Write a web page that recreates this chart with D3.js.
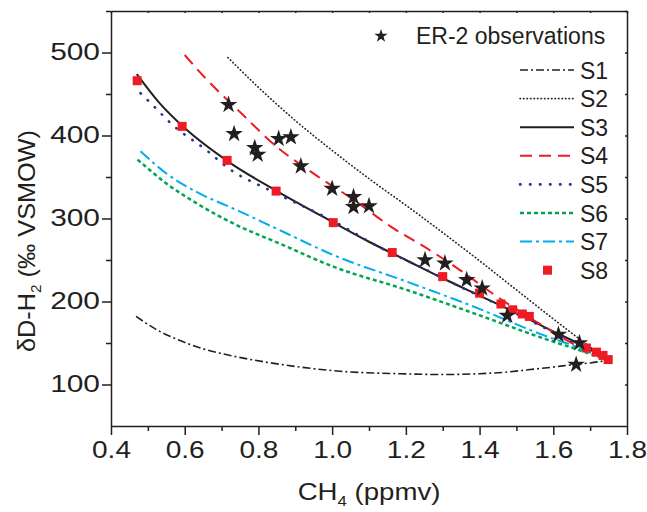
<!DOCTYPE html>
<html>
    <head>
        <style>
         body {
             margin: 0;
             background-color: #ffffff;
         }
         svg text {
             font-family: "Liberation Sans", Arial, sans-serif;
             fill: #231f20;
         }
         .axis path, .axis line {
             stroke: #231f20;
             stroke-width: 1.5;
         }
        </style>
        <script src="https://d3js.org/d3.v7.min.js"></script>
    </head>
    <body>
        <svg id="chart" width="647" height="512"></svg>
        <script>
         // ER-2 observations
         var obsX = [0.719, 0.734, 0.790, 0.798, 0.855, 0.888, 0.915, 1.000, 1.058, 1.058, 1.100,
                     1.252, 1.306, 1.365, 1.407, 1.475, 1.614, 1.671, 1.662];
         var obsY = [437, 402, 385, 377, 396, 398, 363, 336, 326, 314, 315,
                     250, 246, 226, 216, 183, 160, 150, 124];

         // model curves S1..S7
         var s1X = [0.468, 0.52, 0.587, 0.65, 0.723, 0.82, 0.913, 1.021, 1.184, 1.293, 1.40, 1.474, 1.537, 1.60, 1.654, 1.70, 1.745];
         var s1Y = [182, 167, 153, 143, 135, 127, 121, 116, 113, 112, 113, 115, 118, 121, 124, 126, 129];

         var s2X = [0.717, 0.80, 0.90, 1.00, 1.10, 1.20, 1.30, 1.40, 1.50, 1.60, 1.70, 1.745];
         var s2Y = [494, 458, 418, 382, 348, 316, 283, 249, 214, 179, 145, 130];

         var s3X = [0.47, 0.53, 0.60, 0.72, 0.85, 1.00, 1.10, 1.20, 1.30, 1.40, 1.50, 1.60, 1.70, 1.745];
         var s3Y = [474, 440, 409, 368, 333, 296, 272, 250, 228, 207, 186, 164, 142, 130];

         var s4X = [0.60, 0.65, 0.76, 0.84, 0.95, 1.06, 1.16, 1.25, 1.34, 1.46, 1.56, 1.65, 1.745];
         var s4Y = [497, 472, 424, 390, 354, 322, 290, 266, 240, 202, 174, 150, 129];

         var s5X = [0.48, 0.51, 0.569, 0.66, 0.714, 0.84, 1.003, 1.13, 1.247, 1.365, 1.428, 1.573, 1.654, 1.745];
         var s5Y = [451, 438, 412, 382, 362, 332, 297, 265, 240, 214, 201, 169, 151, 130];

         var s6X = [0.472, 0.551, 0.641, 0.732, 0.867, 1.003, 1.202, 1.383, 1.564, 1.70, 1.745];
         var s6Y = [371, 342, 316, 294, 268, 242, 214, 186, 157, 137, 130];

         var s7X = [0.48, 0.551, 0.641, 0.732, 0.867, 1.003, 1.202, 1.383, 1.564, 1.70, 1.745];
         var s7Y = [381, 354, 330, 312, 284, 256, 224, 194, 161, 139, 130];

         // S8 points
         var s8X = [0.471, 0.593, 0.715, 0.848, 1.003, 1.163, 1.30, 1.40, 1.458, 1.49, 1.516, 1.535, 1.69, 1.717, 1.735, 1.749];
         var s8Y = [466, 411, 370, 333, 295, 259, 230, 210, 197, 190, 185, 182, 144, 139, 135, 130];

         var xTicks = [0.4, 0.6, 0.8, 1.0, 1.2, 1.4, 1.6, 1.8];
         var yTicks = [100, 200, 300, 400, 500];

         var series = [
             {name: "S1", xs: s1X, ys: s1Y, color: "#231f20", width: 1.6, dash: "8,3,2,3", cap: "butt"},
             {name: "S2", xs: s2X, ys: s2Y, color: "#231f20", width: 1.6, dash: "0.5,3", cap: "round"},
             {name: "S3", xs: s3X, ys: s3Y, color: "#231f20", width: 2, dash: null, cap: "butt"},
             {name: "S4", xs: s4X, ys: s4Y, color: "#ed1c24", width: 2, dash: "12,7", cap: "butt"},
             {name: "S5", xs: s5X, ys: s5Y, color: "#2e3192", width: 2.6, dash: "0.5,9.5", cap: "round"},
             {name: "S6", xs: s6X, ys: s6Y, color: "#00a651", width: 2.5, dash: "4,3", cap: "butt"},
             {name: "S7", xs: s7X, ys: s7Y, color: "#00aeef", width: 2, dash: "12,4,3,4", cap: "butt"}
         ];

         var svg = d3.select("#chart"),
             margin = {top: 11, right: 20, bottom: 86, left: 111},
             width = +svg.attr("width") - margin.left - margin.right,
             height = +svg.attr("height") - margin.top - margin.bottom;

         var x = d3.scaleLinear().domain([0.4, 1.8]).range([0, width]),
             y = d3.scaleLinear().domain([50, 550]).range([height, 0]);

         var g = svg.append("g")
                    .attr("transform", "translate(" + margin.left + "," + margin.top + ")");

         var line = d3.line()
                      .x(function(d) { return x(d[0]); })
                      .y(function(d) { return y(d[1]); })
                      .curve(d3.curveMonotoneX);

         series.forEach(function(s) {
             g.append("path")
              .datum(s.xs.map(function(v, i) { return [v, s.ys[i]]; }))
              .attr("fill", "none")
              .attr("stroke", s.color)
              .attr("stroke-width", s.width)
              .attr("stroke-dasharray", s.dash)
              .attr("stroke-linecap", s.cap)
              .attr("d", line);
         });

         g.selectAll(".sq")
          .data(s8X.map(function(v, i) { return [v, s8Y[i]]; }))
          .enter().append("rect")
          .attr("class", "sq")
          .attr("x", function(d) { return x(d[0]) - 4.5; })
          .attr("y", function(d) { return y(d[1]) - 4.5; })
          .attr("width", 9)
          .attr("height", 9)
          .attr("fill", "#ed1c24");

         var star = d3.symbol().type(d3.symbolStar).size(95);
         g.selectAll(".star")
          .data(obsX.map(function(v, i) { return [v, obsY[i]]; }))
          .enter().append("path")
          .attr("class", "star")
          .attr("transform", function(d) { return "translate(" + x(d[0]) + "," + y(d[1]) + ")"; })
          .attr("d", star)
          .attr("fill", "#231f20");

         // axes: major + minor ticks
         var xMinor = d3.range(0.5, 1.8, 0.2);
         var yMinor = d3.range(150, 551, 100);

         g.append("g")
          .attr("class", "axis")
          .attr("transform", "translate(0," + height + ")")
          .call(d3.axisBottom(x).tickValues(xMinor).tickSize(5).tickFormat(""))
          .call(function(a) { a.select(".domain").remove(); });
         g.append("g")
          .attr("class", "axis")
          .attr("transform", "translate(0," + height + ")")
          .call(d3.axisBottom(x).tickValues(xTicks).tickSize(9).tickSizeOuter(0).tickPadding(7)
                .tickFormat(d3.format(".1f")))
          .call(function(a) {
              a.selectAll("text").attr("font-size", 23).attr("transform", "scale(1.22,1)");
          });

         g.append("g")
          .attr("class", "axis")
          .call(d3.axisLeft(y).tickValues(yMinor).tickSize(5).tickFormat(""))
          .call(function(a) { a.select(".domain").remove(); });
         g.append("g")
          .attr("class", "axis")
          .call(d3.axisLeft(y).tickValues(yTicks).tickSize(9).tickSizeOuter(0).tickPadding(2))
          .call(function(a) {
              a.selectAll("text").attr("font-size", 23)
               .attr("x", -11 / 1.3)
               .attr("transform", "scale(1.3,1)");
          });

         // top and right frame with small inward ticks
         g.append("g")
          .attr("class", "axis")
          .call(d3.axisBottom(x).tickValues(xTicks.concat(xMinor)).tickSize(2).tickSizeOuter(0).tickFormat(""));
         g.append("g")
          .attr("class", "axis")
          .attr("transform", "translate(" + width + ",0)")
          .call(d3.axisLeft(y).tickValues(yTicks.concat(yMinor)).tickSize(2).tickSizeOuter(0).tickFormat(""));

         // axis titles
         var xt = svg.append("text")
                     .attr("transform", "translate(" + (margin.left + width / 2) + ",500) scale(1.2,1)")
                     .attr("text-anchor", "middle")
                     .attr("font-size", 23);
         xt.append("tspan").text("CH");
         xt.append("tspan").attr("font-size", 14).attr("dy", 6).text("4");
         xt.append("tspan").attr("dy", -6).text(" (ppmv)");

         var yt = svg.append("text")
                     .attr("transform", "translate(35,241) rotate(-90) scale(1.1,1)")
                     .attr("text-anchor", "middle")
                     .attr("font-size", 23);
         yt.append("tspan").text("\u03b4D-H");
         yt.append("tspan").attr("font-size", 14).attr("dy", 6).text("2");
         yt.append("tspan").attr("dy", -6).text(" (\u2030 VSMOW)");

         // legend
         var lg = svg.append("g");
         lg.append("path")
           .attr("transform", "translate(381,36)")
           .attr("d", d3.symbol().type(d3.symbolStar).size(55))
           .attr("fill", "#231f20");
         lg.append("text").attr("x", 416).attr("y", 44).attr("font-size", 23).text("ER-2 observations");

         var rowY = d3.range(8).map(function(i) { return 70 + i * 28.6; });
         series.forEach(function(s, i) {
             lg.append("line")
               .attr("x1", 520).attr("x2", 574)
               .attr("y1", rowY[i]).attr("y2", rowY[i])
               .attr("stroke", s.color)
               .attr("stroke-width", s.width)
               .attr("stroke-dasharray", s.dash)
               .attr("stroke-linecap", s.cap);
             lg.append("text").attr("x", 580).attr("y", rowY[i] + 8.5).attr("font-size", 23).text(s.name);
         });
         lg.append("rect").attr("x", 543).attr("y", rowY[7] - 4.5).attr("width", 9).attr("height", 9).attr("fill", "#ed1c24");
         lg.append("text").attr("x", 580).attr("y", rowY[7] + 8.5).attr("font-size", 23).text("S8");
        </script>
    </body>
</html>
